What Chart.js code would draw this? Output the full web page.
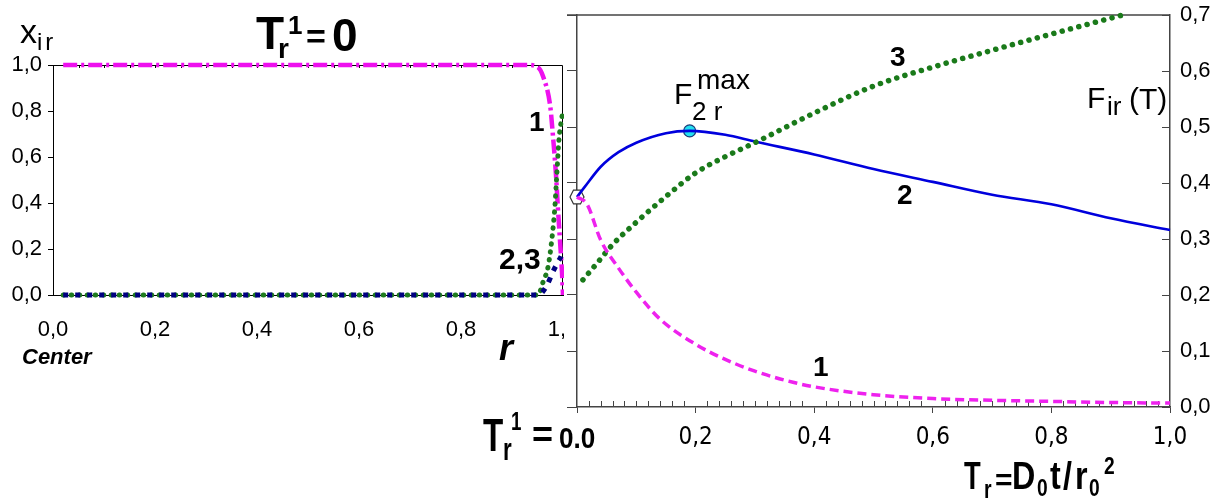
<!DOCTYPE html>
<html><head><meta charset="utf-8">
<script src="https://cdn.jsdelivr.net/npm/chart.js@4.4.1/dist/chart.umd.min.js"></script>
<style>
html,body{margin:0;padding:0;background:#fff;}
#wrap{position:relative;width:1222px;height:503px;overflow:hidden;background:#fff;font-family:"Liberation Sans",Arial,sans-serif;}
#cL{position:absolute;left:0;top:0;width:564px;height:503px;}
#cR{position:absolute;left:564px;top:0;width:658px;height:503px;background:#fff;}
.l{position:absolute;line-height:1;white-space:nowrap;color:#000;transform-origin:0 0;}
.b{font-weight:bold;}
.i{font-style:italic;}
</style></head>
<body><div id="wrap">
<canvas id="cL" width="564" height="503"></canvas>
<canvas id="cR" width="658" height="503"></canvas>

<!-- left panel texts -->
<div class="l" style="left:20px;top:14px;font-size:34px;">x</div>
<div class="l" style="left:37px;top:30px;font-size:24px;letter-spacing:3px;">ir</div>
<div class="l b" style="left:256px;top:10px;font-size:46px;">T</div>
<div class="l b" style="left:278px;top:35px;font-size:28px;">r</div>
<div class="l b" style="left:288px;top:12px;font-size:26px;">1</div>
<div class="l b" style="left:306px;top:19px;font-size:34px;">=</div>
<div class="l b" style="left:332px;top:12px;font-size:46px;">0</div>
<div class="l b" style="left:529px;top:108px;font-size:28px;">1</div>
<div class="l b" style="left:499px;top:244px;font-size:30px;">2,3</div>
<div class="l b i" style="left:499px;top:330px;font-size:36px;">r</div>
<div class="l b i" style="left:22px;top:346px;font-size:22px;">Center</div>

<!-- right panel texts -->
<div class="l" style="left:674px;top:79px;font-size:30px;">F</div>
<div class="l" style="left:697px;top:66px;font-size:28px;">max</div>
<div class="l" style="left:692px;top:98px;font-size:26px;">2 r</div>
<div class="l" style="left:1087px;top:83px;font-size:30px;">F</div>
<div class="l" style="left:1107px;top:93px;font-size:26px;">ir</div>
<div class="l" style="left:1129px;top:84px;font-size:30px;">(T)</div>
<div class="l b" style="left:890px;top:43px;font-size:28px;">3</div>
<div class="l b" style="left:897px;top:181px;font-size:28px;">2</div>
<div class="l b" style="left:813px;top:353px;font-size:28px;">1</div>

<div class="l b" style="left:483px;top:412px;font-size:46px;transform:scaleX(0.72);">T</div>
<div class="l b" style="left:503px;top:433px;font-size:32px;transform:scaleX(0.7);">r</div>
<div class="l b" style="left:511px;top:409px;font-size:25px;transform:scaleX(0.75);">1</div>
<div class="l b" style="left:532px;top:417px;font-size:36px;">=</div>
<div class="l b" style="left:559px;top:423px;font-size:30px;transform:scaleX(0.87);">0.0</div>

<div class="l b" style="left:964px;top:457px;font-size:38px;transform:scaleX(0.72);">T</div>
<div class="l b" style="left:984px;top:476px;font-size:26px;transform:scaleX(0.75);">r</div>
<div class="l b" style="left:995px;top:465px;font-size:30px;">=</div>
<div class="l b" style="left:1012px;top:457px;font-size:38px;transform:scaleX(0.85);">D</div>
<div class="l b" style="left:1037px;top:476px;font-size:24px;transform:scaleX(0.8);">0</div>
<div class="l b" style="left:1050px;top:457px;font-size:38px;transform:scaleX(0.85);">t</div>
<div class="l b" style="left:1063px;top:457px;font-size:38px;transform:scaleX(0.85);">/</div>
<div class="l b" style="left:1075px;top:457px;font-size:38px;transform:scaleX(0.85);">r</div>
<div class="l b" style="left:1089px;top:476px;font-size:24px;transform:scaleX(0.8);">0</div>
<div class="l b" style="left:1104px;top:454px;font-size:24px;transform:scaleX(0.8);">2</div>
</div>

<script>
// ---------- data: left panel (concentration profiles x_ir vs r at T_r^1 = 0) ----------
const leftR1 = [0.02, 0.2, 0.4, 0.6, 0.8, 0.93, 0.951, 0.961, 0.975, 0.98, 0.986, 0.99, 0.994, 0.998, 1.0];
const leftX1 = [1, 1, 1, 1, 1, 1, 0.99, 0.95, 0.82, 0.70, 0.53, 0.38, 0.24, 0.10, 0];
const leftR2 = [0.02, 0.2, 0.4, 0.6, 0.8, 0.951, 0.968, 0.98, 0.99, 0.998, 1.0];
const leftX2 = [0, 0, 0, 0, 0, 0, 0.04, 0.10, 0.143, 0.178, 0.195];
const leftR3 = [0.02, 0.2, 0.4, 0.6, 0.8, 0.951, 0.961, 0.971, 0.978, 0.984, 0.988, 0.992, 0.996, 1.0];
const leftX3 = [0, 0, 0, 0, 0, 0, 0.057, 0.126, 0.24, 0.38, 0.53, 0.674, 0.748, 0.80];
const leftTicksX = [0, 0.2, 0.4, 0.6, 0.8, 1.0];
const leftTicksY = [0, 0.2, 0.4, 0.6, 0.8, 1.0];

// ---------- data: right panel (F_ir vs T_r) ----------
const rightT1 = [0, 0.017, 0.04, 0.07, 0.1, 0.14, 0.2, 0.25, 0.3, 0.35, 0.4, 0.5, 0.6, 0.7, 0.8, 0.9, 1.0];
const rightF1 = [0.375, 0.362, 0.298, 0.248, 0.205, 0.157, 0.112, 0.085, 0.064, 0.048, 0.036, 0.022, 0.015, 0.012, 0.010, 0.008, 0.007];
const rightT2 = [0, 0.013, 0.04, 0.07, 0.1, 0.15, 0.19, 0.25, 0.3, 0.4, 0.5, 0.6, 0.7, 0.8, 0.9, 1.0];
const rightF2 = [0.375, 0.393, 0.429, 0.455, 0.472, 0.489, 0.493, 0.486, 0.474, 0.451, 0.425, 0.402, 0.379, 0.362, 0.337, 0.316];
const rightT3 = [0.01, 0.034, 0.06, 0.1, 0.15, 0.2, 0.25, 0.3, 0.4, 0.5, 0.6, 0.7, 0.8, 0.92];
const rightF3 = [0.227, 0.257, 0.29, 0.33, 0.376, 0.418, 0.447, 0.472, 0.525, 0.573, 0.607, 0.637, 0.666, 0.70];
const startPoint = [0, 0.375];
const maxPoint = [0.19, 0.493];
const rightTicksX = [0, 0.2, 0.4, 0.6, 0.8, 1.0];
const rightTicksY = [0, 0.1, 0.2, 0.3, 0.4, 0.5, 0.6, 0.7];

const FONT = '"Liberation Sans", Arial, sans-serif';
const NARROW = '"Liberation Sans Narrow", "Arial Narrow", "DejaVu Sans Condensed", "Liberation Sans", sans-serif';
const comma = v => (Math.round(v * 10) / 10).toFixed(1).replace('.', ',');
const pts = (xs, ys) => xs.map((x, i) => ({x, y: ys[i]}));

// ---------- left chart ----------
const leftDecor = {
  id: 'leftDecor',
  beforeDatasetsDraw(chart) {
    const {ctx, chartArea: a, scales: {x}} = chart;
    ctx.save();
    ctx.strokeStyle = '#000'; ctx.lineWidth = 1;
    ctx.beginPath();
    ctx.moveTo(a.left, a.top + 0.5); ctx.lineTo(a.right - 0.5, a.top + 0.5); ctx.lineTo(a.right - 0.5, a.bottom);
    for (let k = 1; k < 20; k++) {
      const px = Math.round(x.getPixelForValue(k * 0.05)) + 0.5;
      ctx.moveTo(px, a.top); ctx.lineTo(px, a.top + 3);
    }
    ctx.stroke();
    ctx.restore();
  }
};

new Chart(document.getElementById('cL'), {
  type: 'line',
  data: {
    datasets: [
      {data: pts(leftR2, leftX2), borderColor: '#000080', borderWidth: 5, borderDash: [5, 7], borderCapStyle: 'butt', pointRadius: 0, cubicInterpolationMode: 'monotone', clip: false},
      {data: pts(leftR3, leftX3), borderColor: '#1e7b1e', borderWidth: 5, borderDash: [0.5, 7.5], borderCapStyle: 'round', pointRadius: 0, cubicInterpolationMode: 'monotone', clip: false},
      {data: pts(leftR1, leftX1), borderColor: '#ee10ee', borderWidth: 4.5, borderDash: [14, 4, 3, 4], borderCapStyle: 'butt', pointRadius: 0, cubicInterpolationMode: 'monotone', clip: false}
    ]
  },
  options: {
    responsive: false, animation: false, devicePixelRatio: 1,
    layout: {padding: {left: 0, right: 1, top: 65, bottom: 0}},
    plugins: {legend: {display: false}, tooltip: {enabled: false}},
    scales: {
      x: {
        type: 'linear', min: 0, max: 1,
        afterBuildTicks: s => { s.ticks = leftTicksX.map(v => ({value: v})); },
        ticks: {callback: v => comma(v), font: {family: FONT, size: 22}, color: '#000', padding: 22, maxRotation: 0, autoSkip: false},
        grid: {drawOnChartArea: false, drawTicks: false},
        border: {color: '#000', width: 1},
        afterFit: s => { s.height = 208; s.paddingLeft = 0; s.paddingRight = 0; }
      },
      y: {
        type: 'linear', min: 0, max: 1,
        afterBuildTicks: s => { s.ticks = leftTicksY.map(v => ({value: v})); },
        ticks: {callback: v => comma(v), font: {family: FONT, size: 22}, color: '#000', padding: 6},
        grid: {drawOnChartArea: false, drawTicks: true, tickLength: 5, color: '#000'},
        border: {color: '#000', width: 1},
        afterFit: s => { s.width = 53; s.paddingTop = 0; s.paddingBottom = 0; }
      }
    }
  },
  plugins: [leftDecor]
});

// ---------- right chart ----------
function hexImage() {
  const c = document.createElement('canvas');
  c.width = 18; c.height = 20;
  const g = c.getContext('2d');
  g.beginPath();
  for (let i = 0; i < 6; i++) {
    const ang = i * Math.PI / 3;
    const px = 9 + 7 * Math.cos(ang), py = 10 + 8 * Math.sin(ang);
    i ? g.lineTo(px, py) : g.moveTo(px, py);
  }
  g.closePath();
  g.fillStyle = '#fff'; g.fill();
  g.strokeStyle = '#333'; g.lineWidth = 1.2; g.stroke();
  return c;
}

const AX = '#444';
const rightDecor = {
  id: 'rightDecor',
  beforeDatasetsDraw(chart) {
    const {ctx, chartArea: a, scales: {x, yR}} = chart;
    ctx.save();
    ctx.strokeStyle = AX; ctx.lineWidth = 1.5;
    ctx.beginPath();
    ctx.moveTo(a.left - 10, a.top); ctx.lineTo(a.right, a.top);
    ctx.stroke();
    ctx.lineWidth = 1;
    ctx.beginPath();
    for (let k = 1; k < 50; k++) {
      if (k % 10 === 0) continue;
      const px = Math.round(x.getPixelForValue(k * 0.02)) + 0.5;
      ctx.moveTo(px, a.bottom); ctx.lineTo(px, a.bottom - 6);
    }
    yR.ticks.forEach(t => {
      const py = Math.round(yR.getPixelForValue(t.value)) + 0.5;
      ctx.moveTo(a.right - 8, py); ctx.lineTo(a.right, py);
    });
    ctx.stroke();
    ctx.restore();
  }
};

new Chart(document.getElementById('cR'), {
  type: 'line',
  data: {
    datasets: [
      {data: pts(rightT1, rightF1), yAxisID: 'yR', borderColor: '#ee22ee', borderWidth: 3.5, borderDash: [9, 5], pointRadius: 0, cubicInterpolationMode: 'monotone', clip: false},
      {data: pts(rightT3, rightF3), yAxisID: 'yR', borderColor: '#1a7a1a', borderWidth: 5.5, borderDash: [0.1, 8.5], borderCapStyle: 'round', pointRadius: 0, cubicInterpolationMode: 'monotone', clip: false},
      {data: pts(rightT2, rightF2), yAxisID: 'yR', borderColor: '#0000dd', borderWidth: 2.6, pointRadius: 0, cubicInterpolationMode: 'monotone', clip: false},
      {data: [{x: maxPoint[0], y: maxPoint[1]}], yAxisID: 'yR', showLine: false, pointRadius: 6, pointBackgroundColor: '#22e0f0', pointBorderColor: '#1a3a7a', pointBorderWidth: 1.2, clip: false},
      {data: [{x: startPoint[0], y: startPoint[1]}], yAxisID: 'yR', showLine: false, pointStyle: hexImage(), pointRadius: 9, clip: false}
    ]
  },
  options: {
    responsive: false, animation: false, devicePixelRatio: 1,
    layout: {padding: {left: 0, right: 0, top: 15, bottom: 0}},
    plugins: {legend: {display: false}, tooltip: {enabled: false}},
    scales: {
      x: {
        type: 'linear', min: 0, max: 1,
        afterBuildTicks: s => { s.ticks = rightTicksX.map(v => ({value: v})); },
        ticks: {callback: v => (v === 0 ? '' : comma(v)), font: {family: NARROW, size: 24}, color: '#000', padding: 10, maxRotation: 0, autoSkip: false},
        grid: {drawOnChartArea: false, drawTicks: true, tickLength: 6, color: AX},
        border: {color: AX, width: 1.5},
        afterFit: s => { s.height = 96; s.paddingLeft = 0; s.paddingRight = 0; }
      },
      yL: {
        type: 'linear', position: 'left', min: 0, max: 0.7,
        afterBuildTicks: s => { s.ticks = rightTicksY.map(v => ({value: v})); },
        ticks: {callback: () => ''},
        grid: {drawOnChartArea: false, drawTicks: true, tickLength: 10, color: AX},
        border: {color: AX, width: 1.5},
        afterFit: s => { s.width = 13; s.paddingTop = 0; s.paddingBottom = 0; }
      },
      yR: {
        type: 'linear', position: 'right', min: 0, max: 0.7,
        afterBuildTicks: s => { s.ticks = rightTicksY.map(v => ({value: v})); },
        ticks: {callback: v => comma(v), font: {family: FONT, size: 22}, color: '#000', padding: 10},
        grid: {drawOnChartArea: false, drawTicks: false},
        border: {color: AX, width: 1.5},
        afterFit: s => { s.width = 52; s.paddingTop = 0; s.paddingBottom = 0; }
      }
    }
  },
  plugins: [rightDecor]
});
</script>
</body></html>
